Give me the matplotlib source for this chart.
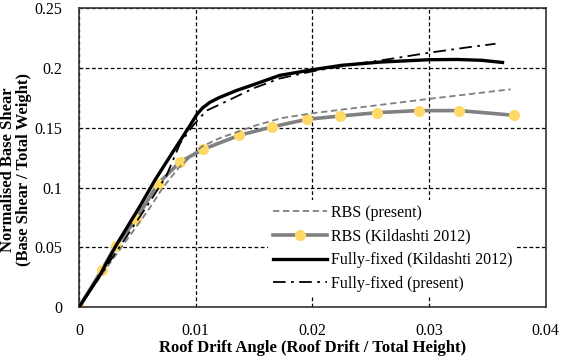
import matplotlib
matplotlib.use("Agg")
from matplotlib import pyplot as plt

plt.rcParams["font.family"] = ["Liberation Serif", "DejaVu Serif"]

# RBS (present) - grey dashed
rbs_present_x = [0, 0.002, 0.004, 0.006, 0.0072, 0.0085, 0.0105, 0.012, 0.0152, 0.0174, 0.02, 0.025, 0.03, 0.037]
rbs_present_y = [0, 0.028, 0.055, 0.082, 0.100, 0.116, 0.134, 0.141, 0.152, 0.158, 0.162, 0.168, 0.174, 0.182]

# RBS (Kildashti 2012) - grey line with yellow markers
rbs_kild_x = [0, 0.00195, 0.00314, 0.00488, 0.00674, 0.00865, 0.01065, 0.01374, 0.0165, 0.0195, 0.0224, 0.02556, 0.0291, 0.0326, 0.0373]
rbs_kild_y = [0, 0.031, 0.0513, 0.0733, 0.1028, 0.1213, 0.1319, 0.1436, 0.1505, 0.1569, 0.1597, 0.1625, 0.1642, 0.1642, 0.1603]

# Fully-fixed (Kildashti 2012) - solid black
ff_kild_x = [0, 0.0018, 0.0032, 0.0052, 0.0065, 0.008, 0.0094, 0.0101, 0.0106, 0.0112, 0.012, 0.0135, 0.015, 0.0172, 0.02, 0.0225, 0.0258, 0.03, 0.0324, 0.0345, 0.0363]
ff_kild_y = [0, 0.027, 0.052, 0.084, 0.106, 0.129, 0.150, 0.161, 0.1665, 0.1710, 0.175, 0.181, 0.186, 0.1936, 0.1983, 0.202, 0.2047, 0.2067, 0.2069, 0.2062, 0.2044]

# Fully-fixed (present) - black dash-dot
ff_present_x = [0, 0.002, 0.004, 0.006, 0.0075, 0.00866, 0.0098, 0.0109, 0.0128, 0.015, 0.0172, 0.02, 0.0236, 0.0264, 0.03, 0.0333, 0.0357]
ff_present_y = [0, 0.029, 0.058, 0.087, 0.110, 0.1367, 0.152, 0.164, 0.1727, 0.183, 0.191, 0.197, 0.203, 0.2069, 0.2125, 0.217, 0.220]

fig = plt.figure(figsize=(5.61, 3.56), dpi=100)
ax = fig.add_axes([0.1408, 0.1368, 0.8319, 0.8412])

ax.plot(rbs_present_x, rbs_present_y, color="#7f7f7f", lw=1.3, ls=(0, (3.5, 2)), label="RBS (present)", zorder=3)
ax.plot(rbs_kild_x, rbs_kild_y, color="#808080", lw=2.6, marker="o", ms=7, mfc="#FFD966", mec="#FFD966",
        label="RBS (Kildashti 2012)", zorder=2)
ax.plot(ff_kild_x, ff_kild_y, color="black", lw=2.4, label="Fully-fixed (Kildashti 2012)", zorder=4)
ax.plot(ff_present_x, ff_present_y, color="black", lw=1.3, ls=(0, (7, 3, 1.5, 3)), label="Fully-fixed (present)", zorder=5)

ax.set_xlim(0, 0.04)
ax.set_ylim(0, 0.25)
ax.set_xticks([0, 0.01, 0.02, 0.03, 0.04])
ax.set_xticklabels(["0", "0.01", "0.02", "0.03", "0.04"])
ax.set_yticks([0, 0.05, 0.1, 0.15, 0.2, 0.25])
ax.set_yticklabels(["0", "0.05", "0.1", "0.15", "0.2", "0.25"])
ax.tick_params(axis="x", length=0, labelsize=11.5, pad=11)
ax.tick_params(axis="y", length=0, labelsize=11.5, pad=12)
ax.grid(True, color="black", ls=(0, (3, 2)), lw=0.9)
ax.set_axisbelow(True)
for s in ax.spines.values():
    s.set_linewidth(1.2)
    s.set_color("#333333")

ax.set_xlabel("Roof Drift Angle (Roof Drift / Total Height)", fontsize=12, fontweight="bold", labelpad=1)
ax.set_ylabel("Normalised Base Shear\n(Base Shear / Total Weight)", fontsize=12, fontweight="bold",
              linespacing=1.0)
ax.yaxis.set_label_coords(-0.10, 0.46)

leg = ax.legend(loc="upper left", bbox_to_anchor=(268 / 561, 1 - 200 / 356), bbox_transform=fig.transFigure,
                fontsize=11.5, frameon=True, fancybox=False, edgecolor="none", facecolor="white", framealpha=1,
                handlelength=3.4, handletextpad=0.25, labelspacing=0.48, borderpad=0.3, borderaxespad=0)

fig.savefig("out.png", dpi=100)
